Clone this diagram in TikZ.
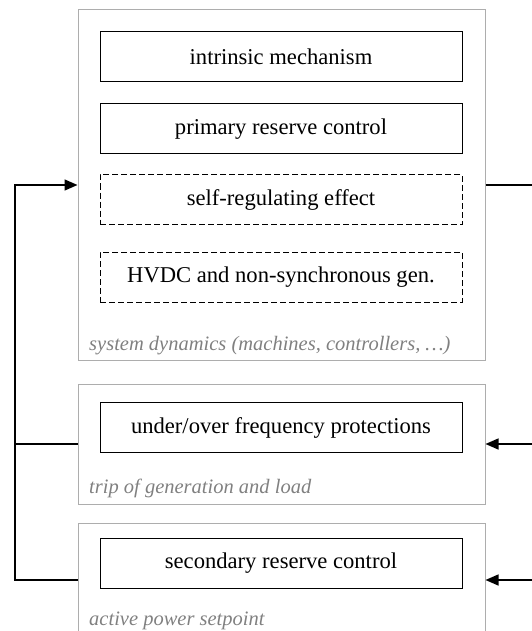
\documentclass[tikz,border=0pt]{standalone}
\usepackage{fontspec}
\setmainfont{Liberation Serif}
\usetikzlibrary{arrows.meta,positioning}

\tikzset{
  group/.style = {draw = black!32, line width = 1pt, minimum width = 407pt, inner sep = 0pt},
  block/.style = {draw, line width = 1pt, minimum width = 362pt, minimum height = 50pt,
                  font = \fontsize{22.6}{27}\selectfont},
  optblock/.style = {block, dash pattern = on 6pt off 3pt},
  tag/.style = {text = black!50, anchor = base west, inner sep = 0pt,
                font = \fontsize{20.5}{25}\selectfont\itshape},
  link/.style = {line width = 1.4pt},
  tip/.style = {-{Triangle[length = 13pt, width = 11pt]}}
}

\begin{document}
\begin{tikzpicture}[x = 1pt, y = -1pt]
\useasboundingbox (0,0) rectangle (532,631);
% groups
\node[group, minimum height = 351pt] (sys) at (281.5,185) {};
\node[group, minimum height = 120pt] (trip) at (281.5,444) {};
\node[group, minimum height = 113pt] (setp) at (281.5,580) {};
% blocks
\node[block] (intr) at (281,57) {intrinsic mechanism};
\node[block] (prim) at (281,129) {primary reserve control};
\node[optblock] (selfreg) at (281,199.5) {self-regulating effect};
\node[optblock] (hvdc) at (281,277) {HVDC and non-synchronous gen.};
\node[block] (ufp) at (281,427.5) {under/over frequency protections};
\node[block] (sec) at (281,563) {secondary reserve control};
% tags
\node[tag] (systag) at (89,350.7) {system dynamics (machines, controllers, \dots)};
\node[tag] (triptag) at (89,493) {trip of generation and load};
\node[tag] (setptag) at (89,625) {active power setpoint};
% connectors
\coordinate (rail) at (15,0);
\coordinate (out) at (532,185);
\coordinate (tripin) at (532,444);
\coordinate (setpin) at (532,580);
\draw[link, tip] (setp.west) -- (setp.west -| rail) |- (sys.west);
\draw[link] (trip.west) -- (trip.west -| rail);
\draw[link] (sys.east) -- (out);
\draw[link, tip] (tripin) -- (trip.east);
\draw[link, tip] (setpin) -- (setp.east);
\end{tikzpicture}
\end{document}
